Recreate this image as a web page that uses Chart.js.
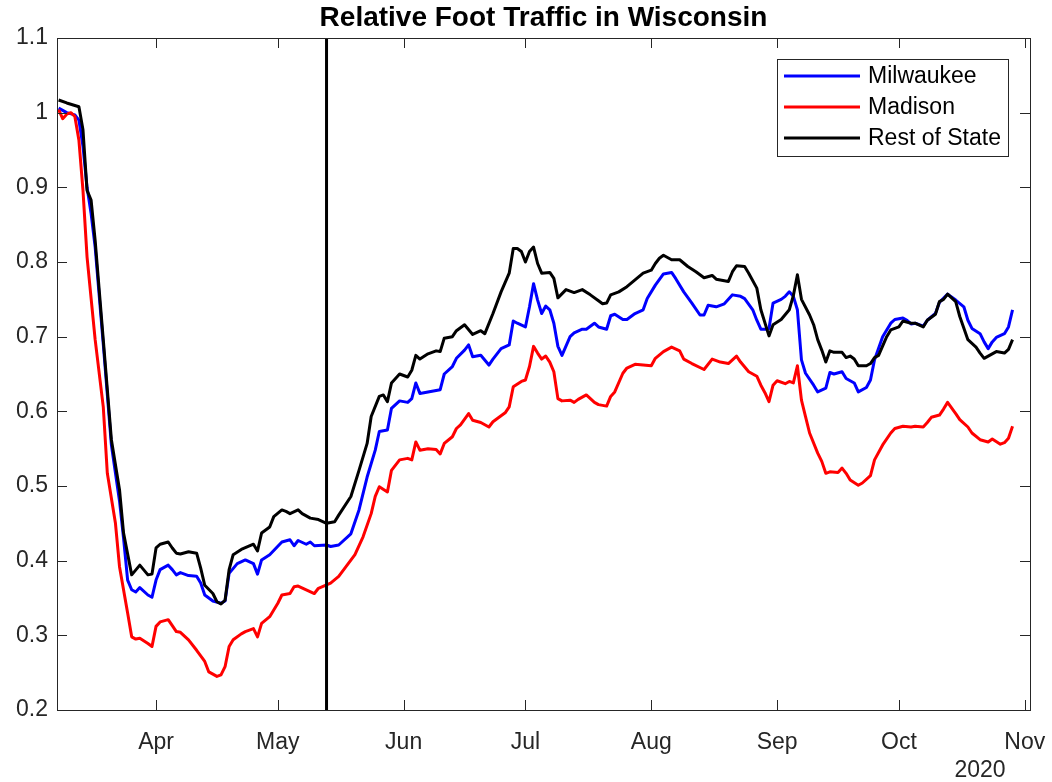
<!DOCTYPE html>
<html>
<head>
<meta charset="utf-8">
<title>Relative Foot Traffic in Wisconsin</title>
<script src="https://cdn.jsdelivr.net/npm/chart.js@4.4.1/dist/chart.umd.min.js"></script>
<style>
  html, body { margin: 0; padding: 0; background: #fff; }
  canvas { display: block; }
</style>
</head>
<body>
<canvas id="trafficChart" width="1052" height="782"></canvas>
<script>
// x values are day-of-year 2020 (Jan 1 = 0)
const monthTicks = [91, 121, 152, 182, 213, 244, 274, 305];
const monthLabels = ['Apr', 'May', 'Jun', 'Jul', 'Aug', 'Sep', 'Oct', 'Nov'];
const yTicks = [0.2, 0.3, 0.4, 0.5, 0.6, 0.7, 0.8, 0.9, 1.0, 1.1];
const yTickLabels = ['0.2', '0.3', '0.4', '0.5', '0.6', '0.7', '0.8', '0.9', '1', '1.1'];
const seriesNames = ['Milwaukee', 'Madison', 'Rest of State'];
const orderDay = 133; // May 13
const yearLabel = '2020';

const milwDays = [67, 69, 71, 72, 73, 74, 75, 76, 78, 80, 82, 83, 84, 85, 86, 87, 89, 90, 91, 92, 94, 95, 96, 97, 99, 101, 102, 103, 105, 107, 108, 109, 111, 113, 115, 116, 117, 119, 122, 124, 125, 126, 128, 129, 130, 133, 134, 136, 139, 141, 143, 145, 146, 148, 149, 151, 153, 154, 155, 156, 158, 161, 162, 164, 165, 167, 168, 169, 171, 173, 174, 176, 178, 179, 180, 182, 183, 184, 185, 186, 187, 188, 189, 190, 191, 193, 194, 196, 197, 199, 200, 202, 203, 204, 206, 207, 209, 211, 212, 214, 216, 218, 219, 221, 223, 225, 226, 227, 229, 231, 233, 235, 236, 238, 239, 240, 241, 242, 243, 245, 246, 247, 248, 249, 250, 251, 253, 254, 256, 257, 258, 260, 261, 263, 264, 266, 267, 268, 270, 272, 273, 275, 276, 277, 278, 280, 281, 283, 284, 286, 288, 290, 291, 292, 294, 295, 296, 297, 298, 300, 301, 302];
const milwVals = [1.006, 1.000, 0.997, 0.990, 0.955, 0.900, 0.865, 0.820, 0.690, 0.555, 0.480, 0.430, 0.374, 0.361, 0.358, 0.364, 0.354, 0.351, 0.374, 0.388, 0.394, 0.388, 0.381, 0.384, 0.380, 0.379, 0.370, 0.354, 0.346, 0.343, 0.346, 0.383, 0.396, 0.401, 0.396, 0.382, 0.401, 0.408, 0.425, 0.428, 0.420, 0.427, 0.422, 0.425, 0.420, 0.421, 0.419, 0.421, 0.436, 0.468, 0.512, 0.548, 0.573, 0.575, 0.604, 0.614, 0.612, 0.617, 0.638, 0.624, 0.626, 0.629, 0.650, 0.660, 0.671, 0.682, 0.689, 0.673, 0.675, 0.662, 0.670, 0.684, 0.689, 0.721, 0.718, 0.713, 0.740, 0.771, 0.749, 0.731, 0.741, 0.736, 0.718, 0.687, 0.675, 0.700, 0.705, 0.710, 0.710, 0.718, 0.713, 0.710, 0.728, 0.730, 0.723, 0.723, 0.731, 0.736, 0.751, 0.769, 0.784, 0.786, 0.778, 0.760, 0.745, 0.729, 0.729, 0.742, 0.740, 0.744, 0.756, 0.754, 0.751, 0.736, 0.722, 0.710, 0.710, 0.711, 0.745, 0.750, 0.754, 0.760, 0.754, 0.736, 0.669, 0.651, 0.635, 0.626, 0.631, 0.652, 0.650, 0.653, 0.644, 0.638, 0.626, 0.632, 0.642, 0.669, 0.700, 0.718, 0.723, 0.725, 0.722, 0.717, 0.718, 0.714, 0.722, 0.731, 0.746, 0.757, 0.749, 0.740, 0.722, 0.711, 0.704, 0.693, 0.684, 0.693, 0.699, 0.704, 0.713, 0.736];

const madDays = [67, 68, 69, 70, 71, 72, 73, 74, 76, 78, 79, 81, 82, 84, 85, 86, 87, 89, 90, 91, 92, 94, 96, 97, 99, 101, 103, 104, 106, 107, 108, 109, 110, 112, 113, 115, 116, 117, 119, 121, 122, 124, 125, 126, 128, 130, 131, 134, 136, 140, 142, 144, 145, 146, 148, 149, 151, 153, 154, 155, 156, 158, 160, 161, 162, 164, 165, 166, 168, 169, 171, 173, 174, 177, 178, 179, 181, 182, 183, 184, 185, 186, 187, 188, 189, 190, 191, 193, 194, 195, 197, 199, 200, 202, 203, 204, 206, 207, 209, 211, 213, 214, 216, 218, 220, 221, 223, 226, 228, 230, 232, 234, 235, 237, 239, 240, 241, 242, 243, 244, 246, 247, 248, 249, 250, 251, 252, 254, 255, 256, 257, 259, 260, 261, 262, 264, 265, 267, 268, 270, 272, 273, 275, 277, 278, 280, 281, 282, 284, 285, 286, 288, 289, 291, 292, 294, 296, 297, 299, 300, 301, 302];
const madVals = [1.004, 0.992, 0.998, 1.000, 0.995, 0.963, 0.896, 0.807, 0.696, 0.606, 0.517, 0.450, 0.392, 0.330, 0.298, 0.295, 0.296, 0.289, 0.285, 0.312, 0.318, 0.321, 0.305, 0.304, 0.294, 0.280, 0.265, 0.251, 0.245, 0.247, 0.258, 0.285, 0.294, 0.302, 0.305, 0.309, 0.298, 0.316, 0.325, 0.343, 0.354, 0.356, 0.365, 0.366, 0.361, 0.356, 0.363, 0.370, 0.379, 0.408, 0.432, 0.463, 0.486, 0.499, 0.492, 0.521, 0.535, 0.537, 0.535, 0.559, 0.548, 0.550, 0.549, 0.543, 0.557, 0.566, 0.577, 0.582, 0.597, 0.588, 0.585, 0.579, 0.586, 0.598, 0.606, 0.633, 0.640, 0.642, 0.660, 0.687, 0.678, 0.670, 0.674, 0.666, 0.653, 0.617, 0.614, 0.615, 0.612, 0.616, 0.622, 0.612, 0.609, 0.607, 0.620, 0.626, 0.651, 0.658, 0.663, 0.662, 0.661, 0.671, 0.680, 0.686, 0.681, 0.670, 0.664, 0.656, 0.670, 0.666, 0.664, 0.674, 0.666, 0.653, 0.647, 0.635, 0.625, 0.613, 0.635, 0.641, 0.637, 0.640, 0.638, 0.661, 0.615, 0.593, 0.571, 0.544, 0.533, 0.517, 0.519, 0.518, 0.524, 0.517, 0.508, 0.501, 0.504, 0.514, 0.535, 0.555, 0.571, 0.577, 0.580, 0.579, 0.580, 0.579, 0.585, 0.592, 0.595, 0.603, 0.612, 0.597, 0.589, 0.579, 0.571, 0.562, 0.559, 0.563, 0.556, 0.558, 0.564, 0.580];

const restDays = [67, 69, 72, 73, 74, 75, 76, 78, 80, 82, 83, 85, 87, 89, 90, 91, 92, 94, 95, 96, 97, 99, 101, 102, 103, 105, 106, 107, 108, 109, 110, 112, 115, 116, 117, 119, 120, 122, 123, 124, 126, 127, 129, 131, 133, 135, 136, 139, 141, 143, 144, 146, 147, 148, 149, 151, 153, 154, 155, 156, 158, 160, 161, 162, 164, 165, 167, 169, 171, 172, 174, 176, 178, 179, 180, 181, 182, 183, 184, 185, 186, 188, 189, 190, 192, 194, 196, 198, 200, 201, 202, 203, 205, 207, 209, 211, 213, 214, 215, 216, 218, 220, 222, 224, 226, 228, 229, 232, 233, 234, 236, 237, 239, 240, 242, 243, 245, 247, 248, 249, 250, 252, 253, 254, 255, 256, 257, 258, 260, 261, 262, 263, 264, 266, 267, 268, 269, 271, 272, 274, 275, 277, 278, 280, 281, 283, 284, 285, 286, 288, 289, 291, 293, 294, 295, 297, 298, 300, 301, 302];
const restVals = [1.017, 1.013, 1.008, 0.977, 0.896, 0.883, 0.829, 0.696, 0.562, 0.495, 0.437, 0.381, 0.394, 0.381, 0.382, 0.417, 0.422, 0.425, 0.417, 0.410, 0.409, 0.412, 0.410, 0.390, 0.367, 0.356, 0.345, 0.342, 0.347, 0.388, 0.408, 0.415, 0.422, 0.413, 0.437, 0.445, 0.459, 0.468, 0.466, 0.463, 0.468, 0.463, 0.457, 0.455, 0.450, 0.452, 0.461, 0.486, 0.521, 0.557, 0.593, 0.620, 0.622, 0.613, 0.638, 0.650, 0.646, 0.655, 0.675, 0.670, 0.677, 0.681, 0.680, 0.698, 0.700, 0.708, 0.716, 0.703, 0.708, 0.704, 0.731, 0.760, 0.785, 0.818, 0.818, 0.814, 0.800, 0.814, 0.820, 0.798, 0.785, 0.786, 0.778, 0.752, 0.763, 0.759, 0.763, 0.756, 0.748, 0.744, 0.745, 0.756, 0.760, 0.767, 0.776, 0.785, 0.789, 0.798, 0.805, 0.809, 0.803, 0.803, 0.794, 0.787, 0.779, 0.782, 0.777, 0.774, 0.787, 0.795, 0.794, 0.785, 0.765, 0.736, 0.701, 0.716, 0.723, 0.736, 0.755, 0.783, 0.750, 0.729, 0.716, 0.696, 0.682, 0.666, 0.681, 0.679, 0.679, 0.672, 0.674, 0.670, 0.661, 0.661, 0.664, 0.672, 0.675, 0.700, 0.709, 0.713, 0.721, 0.718, 0.718, 0.713, 0.722, 0.730, 0.747, 0.750, 0.757, 0.747, 0.727, 0.696, 0.686, 0.678, 0.671, 0.677, 0.680, 0.678, 0.683, 0.696];

const FONT = "'Liberation Sans', Arial, Helvetica, sans-serif";
const TEXT = '#262626';

const toPoints = (days, vals) => days.map((d, i) => ({ x: d, y: vals[i] }));

function lineSet(label, days, vals, color, order) {
    return {
        label, data: toPoints(days, vals), borderColor: color, backgroundColor: color,
        borderWidth: 3, pointRadius: 0, tension: 0, borderJoinStyle: 'round', order
    };
}

// axes box, inward ticks, title, legend and year label (MATLAB look)
const frame = {
    id: 'frame',
    afterDatasetsDraw(chart) {
        const { ctx, chartArea: a, scales: { x, y } } = chart;
        ctx.save();

        ctx.strokeStyle = TEXT;
        ctx.lineWidth = 1;
        ctx.beginPath();
        monthTicks.forEach(d => {
            const px = Math.round(x.getPixelForValue(d)) + 0.5;
            ctx.moveTo(px, a.bottom); ctx.lineTo(px, a.bottom - 10);
            ctx.moveTo(px, a.top); ctx.lineTo(px, a.top + 10);
        });
        yTicks.forEach(v => {
            const py = Math.round(y.getPixelForValue(v)) + 0.5;
            ctx.moveTo(a.left, py); ctx.lineTo(a.left + 10, py);
            ctx.moveTo(a.right, py); ctx.lineTo(a.right - 10, py);
        });
        ctx.stroke();
        ctx.strokeRect(Math.round(a.left) + 0.5, Math.round(a.top) + 0.5,
            Math.round(a.right - a.left), Math.round(a.bottom - a.top));

        // title
        ctx.fillStyle = '#000';
        ctx.font = 'bold 28px ' + FONT;
        ctx.textAlign = 'center';
        ctx.textBaseline = 'middle';
        ctx.fillText('Relative Foot Traffic in Wisconsin', (a.left + a.right) / 2, 18);

        // year under the last month labels
        ctx.fillStyle = TEXT;
        ctx.font = '23px ' + FONT;
        ctx.fillText(yearLabel, a.right - 50, 771);

        // legend
        const lw = 231, lh = 97;
        const lx = a.right - 22 - lw, ly = a.top + 21;
        ctx.fillStyle = '#fff';
        ctx.fillRect(lx, ly, lw, lh);
        ctx.strokeStyle = TEXT;
        ctx.strokeRect(Math.round(lx) + 0.5, Math.round(ly) + 0.5, lw, lh);
        ctx.textAlign = 'left';
        ctx.font = '23px ' + FONT;
        seriesNames.forEach((name, i) => {
            const ds = chart.data.datasets[i];
            const ry = ly + 17 + i * 31;
            ctx.strokeStyle = ds.borderColor;
            ctx.lineWidth = 3;
            ctx.beginPath();
            ctx.moveTo(lx + 7, ry); ctx.lineTo(lx + 83, ry);
            ctx.stroke();
            ctx.fillStyle = '#000';
            ctx.fillText(name, lx + 91, ry + 1);
        });
        ctx.restore();
    }
};

new Chart(document.getElementById('trafficChart'), {
    type: 'line',
    data: {
        datasets: [
            lineSet(seriesNames[0], milwDays, milwVals, '#0000ff', 2),
            lineSet(seriesNames[1], madDays, madVals, '#ff0000', 1),
            lineSet(seriesNames[2], restDays, restVals, '#000000', 0),
            {
                label: 'May 13', data: [{ x: orderDay, y: 0.2 }, { x: orderDay, y: 1.1 }],
                borderColor: '#000', borderWidth: 3, pointRadius: 0, order: -1
            }
        ]
    },
    options: {
        responsive: false,
        animation: false,
        layout: { padding: { top: 38, right: 22, left: 0, bottom: 0 } },
        plugins: { legend: { display: false }, title: { display: false }, tooltip: { enabled: false } },
        scales: {
            x: {
                type: 'linear', min: 66.6, max: 306.3,
                grid: { display: false, drawTicks: false }, border: { display: false },
                afterBuildTicks: s => { s.ticks = monthTicks.map(v => ({ value: v })); },
                afterFit: s => { s.height = 72; s.paddingLeft = 0; s.paddingRight = 0; },
                ticks: {
                    autoSkip: false, maxRotation: 0, padding: 19, color: TEXT,
                    font: { size: 23, family: FONT },
                    callback: (v, i) => monthLabels[i]
                }
            },
            y: {
                min: 0.2, max: 1.1,
                grid: { display: false, drawTicks: false }, border: { display: false },
                afterBuildTicks: s => { s.ticks = yTicks.map(v => ({ value: v })); },
                afterFit: s => { s.width = 57; s.paddingTop = 0; s.paddingBottom = 0; },
                ticks: {
                    padding: 9, color: TEXT,
                    font: { size: 23, family: FONT },
                    callback: (v, i) => yTickLabels[i]
                }
            }
        }
    },
    plugins: [frame]
});
</script>
</body>
</html>
